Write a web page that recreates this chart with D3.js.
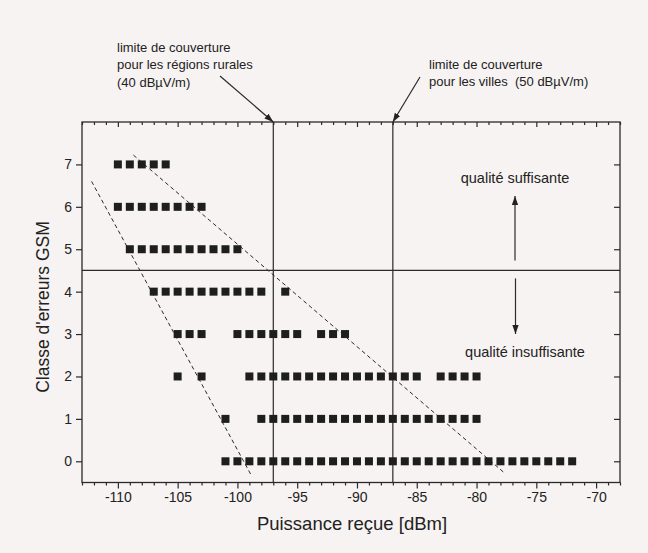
<!DOCTYPE html>
<html>
<head>
<meta charset="utf-8">
<script src="https://cdn.jsdelivr.net/npm/d3@7"></script>
<style>
  body { margin: 0; background: #f7f3f2; }
  svg { display: block; font-family: "Liberation Sans", Arial, sans-serif; }
  .frame { fill: none; stroke: #2a2a2a; stroke-width: 1.3; }
  .mark { fill: #1e1e1e; }
  .ref { stroke: #2a2a2a; stroke-width: 1.2; }
  .trend { fill: none; stroke: #2a2a2a; stroke-width: 1; stroke-dasharray: 4 3; }
  .tick line { stroke: #2a2a2a; stroke-width: 1.2; }
  .tick text { fill: #222; font-size: 14px; }
  .domain { display: none; }
  .note { fill: #222; }
</style>
</head>
<body>
<div id="plot"></div>
<script>
// measured rows: one list of received-power values (dBm) per GSM error class
var rows = [
  {cls: 7, dbm: [-110, -109, -108, -107, -106]},
  {cls: 6, dbm: [-110, -109, -108, -107, -106, -105, -104, -103]},
  {cls: 5, dbm: [-109, -108, -107, -106, -105, -104, -103, -102, -101, -100]},
  {cls: 4, dbm: [-107, -106, -105, -104, -103, -102, -101, -100, -99, -98, -96]},
  {cls: 3, dbm: [-105, -104, -103, -100, -99, -98, -97, -96, -95, -93, -92, -91]},
  {cls: 2, dbm: [-105, -103, -99, -98, -97, -96, -95, -94, -93, -92, -91, -90, -89, -88, -87, -86, -85, -83, -82, -81, -80]},
  {cls: 1, dbm: [-101, -98, -97, -96, -95, -94, -93, -92, -91, -90, -89, -88, -87, -86, -85, -84, -83, -82, -81, -80]},
  {cls: 0, dbm: [-101, -100, -99, -98, -97, -96, -95, -94, -93, -92, -91, -90, -89, -88, -87, -86, -85, -84, -83, -82, -81, -80, -79, -78, -77, -76, -75, -74, -73, -72]}
];
// dashed envelope lines, [dBm, class]
var leftEdge = [[-112.2, 6.6], [-98.9, -0.3]];
var rightEdge = [[-108.7, 7.22], [-77.6, -0.29]];
// coverage limits (dBm) and quality threshold (class)
var ruralLimit = -97, cityLimit = -87;
var qualityLimit = 4.5;

var xTicks = [-110, -105, -100, -95, -90, -85, -80, -75, -70];
var yTicks = [0, 1, 2, 3, 4, 5, 6, 7];

var width = 648, height = 553;
var margin = {top: 122, right: 28, bottom: 70.5, left: 82};

var svg = d3.select("#plot").append("svg")
    .attr("width", width)
    .attr("height", height);

var x = d3.scaleLinear().domain([-113, -68]).range([margin.left, width - margin.right]);
var y = d3.scaleLinear().domain([-0.5, 8]).range([height - margin.bottom, margin.top]);

var defs = svg.append("defs");
defs.append("marker")
    .attr("id", "head")
    .attr("viewBox", "0 0 10 10")
    .attr("refX", 10).attr("refY", 5)
    .attr("markerWidth", 9).attr("markerHeight", 9)
    .attr("markerUnits", "userSpaceOnUse")
    .attr("orient", "auto")
  .append("path")
    .attr("d", "M0,1.5 L10,5 L0,8.5 Z")
    .attr("fill", "#222");

// axes: ticks out on bottom/left, in on top/right, 1 dB minor ticks
var minor = d3.range(-113, -67, 1).filter(function(d) { return xTicks.indexOf(d) < 0; });
var plotBottom = y(-0.5), plotTop = y(8);

svg.append("g")
    .attr("transform", "translate(0," + plotBottom + ")")
    .call(d3.axisBottom(x).tickValues(minor).tickSize(3).tickFormat(""));
svg.append("g")
    .attr("transform", "translate(0," + plotBottom + ")")
    .call(d3.axisBottom(x).tickValues(xTicks).tickSize(6).tickPadding(4)
          .tickFormat(function(d) { return d; }));
svg.append("g")
    .attr("transform", "translate(0," + plotTop + ")")
    .call(d3.axisBottom(x).tickValues(minor).tickSize(3).tickFormat(""));
svg.append("g")
    .attr("transform", "translate(0," + plotTop + ")")
    .call(d3.axisBottom(x).tickValues(xTicks).tickSize(5).tickFormat(""));
svg.append("g")
    .attr("transform", "translate(" + x(-113) + ",0)")
    .call(d3.axisLeft(y).tickValues(yTicks).tickSize(6).tickPadding(4));
svg.append("g")
    .attr("transform", "translate(" + x(-68) + ",0)")
    .call(d3.axisLeft(y).tickValues(yTicks).tickSize(6).tickFormat(""));

svg.append("rect")
    .attr("class", "frame")
    .attr("x", x(-113)).attr("y", plotTop)
    .attr("width", x(-68) - x(-113))
    .attr("height", plotBottom - plotTop);

// reference lines
svg.append("line").attr("class", "ref")
    .attr("x1", x(-113)).attr("x2", x(-68))
    .attr("y1", y(qualityLimit)).attr("y2", y(qualityLimit));
[ruralLimit, cityLimit].forEach(function(v) {
  svg.append("line").attr("class", "ref")
      .attr("x1", x(v)).attr("x2", x(v))
      .attr("y1", plotTop).attr("y2", plotBottom);
});

// dashed envelopes
var line = d3.line().x(function(d) { return x(d[0]); }).y(function(d) { return y(d[1]); });
[leftEdge, rightEdge].forEach(function(e) {
  svg.append("path").attr("class", "trend").attr("d", line(e));
});

// measurement squares
var sq = 8;
rows.forEach(function(r) {
  svg.selectAll(null)
      .data(r.dbm)
    .enter().append("rect")
      .attr("class", "mark")
      .attr("x", function(d) { return x(d) - sq / 2; })
      .attr("y", y(r.cls) - sq / 2)
      .attr("width", sq).attr("height", sq);
});

// annotations
function note(tx, ty, lines, size, anchor) {
  var t = svg.append("text").attr("class", "note")
      .attr("x", tx).attr("y", ty)
      .style("font-size", size + "px")
      .style("white-space", "pre")
      .attr("text-anchor", anchor || "start");
  lines.forEach(function(s, i) {
    t.append("tspan").attr("x", tx).attr("dy", i ? "1.33em" : 0).text(s);
  });
}
note(117, 52, ["limite de couverture", "pour les régions rurales", "(40 dBµV/m)"], 13);
note(429, 69, ["limite de couverture", "pour les villes \u00a0(50 dBµV/m)"], 13);

svg.append("line").attr("class", "ref").attr("stroke-width", 1.1)
    .attr("x1", 220).attr("y1", 76).attr("x2", x(ruralLimit)).attr("y2", plotTop)
    .attr("marker-end", "url(#head)");
svg.append("line").attr("class", "ref").attr("stroke-width", 1.1)
    .attr("x1", 420).attr("y1", 77).attr("x2", x(cityLimit)).attr("y2", plotTop)
    .attr("marker-end", "url(#head)");

note(515, 183, ["qualité suffisante"], 14.5, "middle");
note(525, 357, ["qualité insuffisante"], 14.5, "middle");
svg.append("line").attr("class", "ref").attr("stroke-width", 1.1)
    .attr("x1", 515).attr("y1", y(qualityLimit) - 10).attr("x2", 515).attr("y2", 196)
    .attr("marker-end", "url(#head)");
svg.append("line").attr("class", "ref").attr("stroke-width", 1.1)
    .attr("x1", 515.5).attr("y1", y(qualityLimit) + 8).attr("x2", 515.5).attr("y2", 334)
    .attr("marker-end", "url(#head)");

// axis titles
svg.append("text")
    .attr("x", 352).attr("y", 530)
    .attr("text-anchor", "middle")
    .style("font-size", "18.5px")
    .attr("fill", "#222")
    .text("Puissance reçue [dBm]");
svg.append("text")
    .attr("transform", "translate(49,307) rotate(-90)")
    .attr("text-anchor", "middle")
    .style("font-size", "17.5px")
    .attr("fill", "#222")
    .text("Classe d'erreurs GSM");
</script>
</body>
</html>
